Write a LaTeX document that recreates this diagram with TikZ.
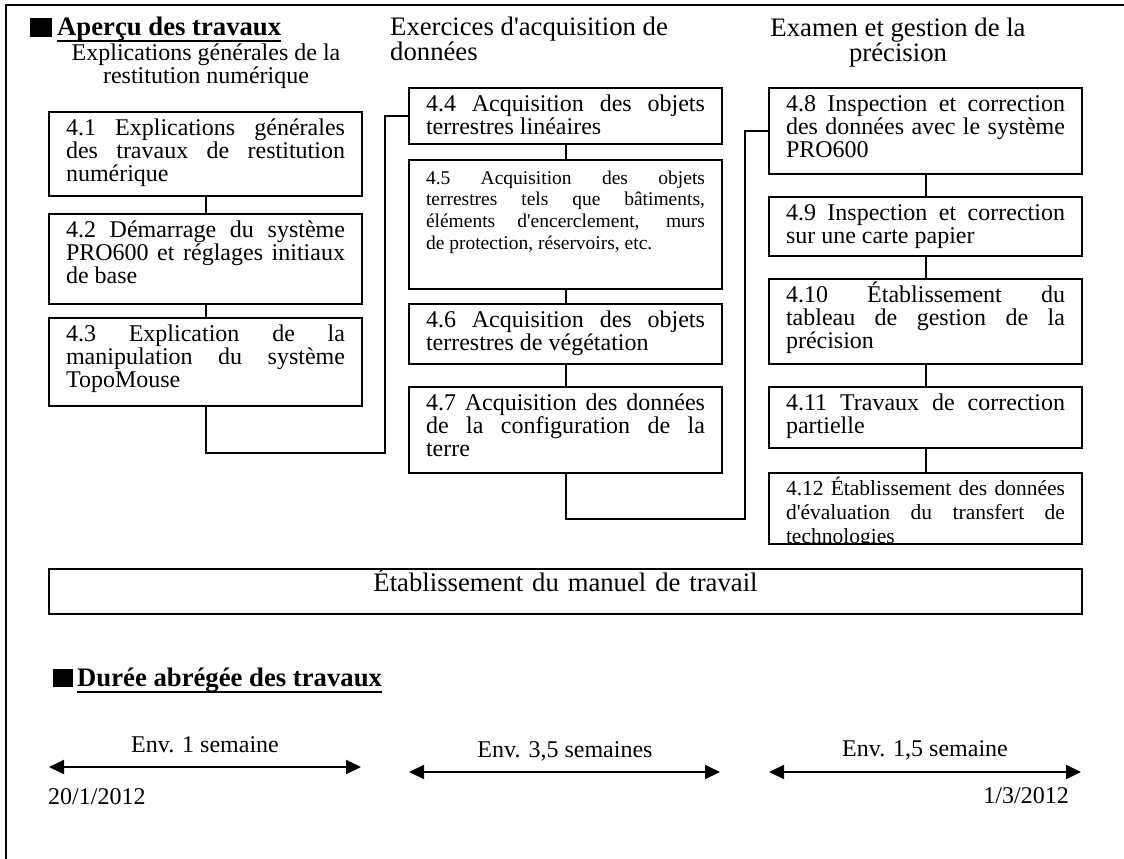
\documentclass[tikz,border=0pt]{standalone}
\usepackage{fontspec}
\setmainfont{Liberation Serif}
\usetikzlibrary{arrows.meta}
\hyphenpenalty=10000
\tolerance=9999
\hbadness=10000
\newcommand{\txtnorm}{\fontsize{24}{23.3}\selectfont}
\newcommand{\txtgrand}{\fontsize{26.7}{23}\selectfont}
\newcommand{\apo}{\textquotesingle}
\tikzset{>={Triangle[length=15pt,width=14pt]},etape/.style={draw,line width=2pt,anchor=north west,inner xsep=17pt,inner ysep=0pt,text width=279pt,align=justify,font=\txtnorm,text height=23pt,text depth=#1},lien/.style={line width=2pt},duree/.style={<->,line width=2pt},titre/.style={anchor=base west,inner sep=0pt,font=\bfseries\fontsize{26.7}{26.7}\selectfont},legende/.style={inner sep=0pt,font=\txtnorm}}

\begin{document}
\begin{tikzpicture}[x=1pt,y=-1pt]
\useasboundingbox (0,0) rectangle (1124,859);
\draw[line width=2.5pt] (6,865) -- (6,5) -- (1130,5);
% apercu
\fill (30,18) rectangle (52,37);
\node[titre] (apercu) at (57,36) {Aperçu des travaux};
\draw[line width=2pt] ([yshift=-5pt]apercu.base west) -- ([yshift=-5pt]apercu.base east);
\node[legende,anchor=base,align=center] (colA) at (206,84) {Explications générales de la\\restitution numérique};
\node[legende,anchor=base west,align=left,font=\txtgrand] (colB) at (390,61) {Exercices d\apo acquisition de\\données};
\node[legende,anchor=base,align=center,font=\txtgrand] (colC) at (898,62) {Examen et gestion de la\\précision};
% colonne 1
\node[etape=61pt] (e41) at (48,111) {4.1 Explications générales\linebreak des travaux de restitution\linebreak numérique};
\node[etape=67pt] (e42) at (48,213) {4.2 Démarrage du système\linebreak PRO600 et réglages initiaux\linebreak de base};
\node[etape=65pt] (e43) at (48,317) {4.3 Explication de la\linebreak manipulation du système\linebreak TopoMouse};
% colonne 2
\node[etape=33pt] (e44) at (408,87) {4.4 Acquisition des objets\linebreak terrestres linéaires};
\node[etape=105pt,text height=24pt,font=\fontsize{19.5}{21.7}\selectfont] (e45) at (408,159) {4.5 Acquisition des objets\linebreak terrestres tels que bâtiments,\linebreak éléments d\apo encerclement, murs\linebreak de protection, réservoirs, etc.};
\node[etape=37pt] (e46) at (408,303) {4.6 Acquisition des objets\linebreak terrestres de végétation};
\node[etape=63pt] (e47) at (408,386) {4.7 Acquisition des données\linebreak de la configuration de la\linebreak terre};
% colonne 3
\node[etape=63pt] (e48) at (768,87) {4.8 Inspection et correction\linebreak des données avec le système\linebreak PRO600};
\node[etape=36pt] (e49) at (768,196) {4.9 Inspection et correction\linebreak sur une carte papier};
\node[etape=62pt] (e410) at (768,278) {4.10 Établissement du\linebreak tableau de gestion de la\linebreak précision};
\node[etape=38pt] (e411) at (768,386) {4.11 Travaux de correction\linebreak partielle};
\begin{scope}
\clip (764,468) rectangle (1086,544);
\node[etape=49pt,text height=22pt,font=\fontsize{21.5}{24.3}\selectfont] (e412) at (768,472) {4.12 Établissement des données\linebreak d\apo évaluation du transfert de\linebreak technologies};
\end{scope}
\node[etape=23pt,text height=22pt,text width=999pt,align=center,font=\txtgrand] (manuel) at (48,568) {Établissement du manuel de travail};
% liens
\foreach \a/\b in {e41/e42,e42/e43,e44/e45,e45/e46,e46/e47,e48/e49,e49/e410,e410/e411,e411/e412}{\draw[lien] (\a.south) -- (\b.north);}
\coordinate (c1) at (385,453);
\coordinate (c2) at (745,519);
\draw[lien] (e43.south) |- (c1) |- (e44.west);
\draw[lien] (e47.south) |- (c2) |- (e48.west);
% duree
\fill (53,669) rectangle (73,687);
\node[titre] (duree) at (77,686) {Durée abrégée des travaux};
\draw[line width=2pt] ([yshift=-6pt]duree.base west) -- ([yshift=-6pt]duree.base east);
\foreach \n/\xa/\xb/\y in {1/49/361/767,2/409/720/772,3/769/1081/772}{\coordinate (d\n) at (\xa,\y); \coordinate (f\n) at (\xb,\y); \draw[duree] (d\n) -- (f\n);}
\node[legende,anchor=base] (l1) at (205,752) {Env. 1 semaine};
\node[legende,anchor=base] (l2) at (565,757) {Env. 3,5 semaines};
\node[legende,anchor=base] (l3) at (925,756) {Env. 1,5 semaine};
\node[legende,anchor=base west] (debut) at (48,804) {20/1/2012};
\node[legende,anchor=base east] (fin) at (1069,803) {1/3/2012};
\end{tikzpicture}
\end{document}
